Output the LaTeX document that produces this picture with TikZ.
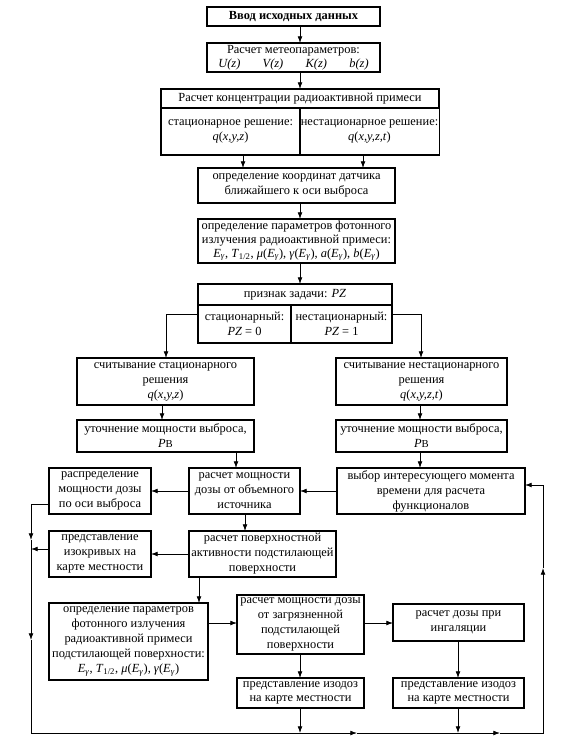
\documentclass[tikz,border=0pt]{standalone}
\usepackage{fontspec}
\setmainfont{Liberation Serif}
\usetikzlibrary{arrows.meta}
\newcommand\fs{\fontsize{9.3}{11.3}\selectfont}
\newcommand\Eg{\textit{E}\textsubscript{\textit{γ}}}
\newcommand\Thalf{\textit{T}\textsubscript{1/2}}
\newcommand\Pv{\textit{P}{\footnotesize В}}
\newcommand\bx[6]{\node[bx,minimum width={(#4-#2)*0.75pt},minimum height={(#5-#3)*0.75pt}] (#1) at ({(#2+#4)/2},{(#3+#5)/2}) {#6};}
\tikzset{
  bx/.style={draw, line width=0.9pt, inner sep=1pt, outer sep=0pt, align=center, font=\fs},
  arr/.style={line width=0.6pt, -{Latex[length=5pt,width=3.6pt]}},
  ln/.style={line width=0.6pt}
}
\begin{document}
\begin{tikzpicture}[x=0.75pt,y=-0.75pt]
\useasboundingbox (0,0) rectangle (562,745);
% boxes
\bx{b1}{207}{7}{380}{26}{\textbf{Ввод исходных данных}}
\bx{b2}{207}{43}{380}{72}{Расчет метеопараметров:\\[-1pt] \textit{U(z)}\hspace{1.8em}\textit{V(z)}\hspace{1.8em}\textit{K(z)}\hspace{1.8em}\textit{b(z)}}
\bx{b3t}{161}{89}{439}{108}{Расчет концентрации радиоактивной примеси}
\bx{b3l}{161}{108}{300}{155}{стационарное решение:\\ \textit{q}(\textit{x,y,z})}
\bx{b3r}{300}{108}{439}{155}{нестационарное решение:\\ \textit{q}(\textit{x,y,z,t})}
\bx{b4}{198}{168}{395}{203}{определение координат датчика\\ближайшего к оси выброса}
\bx{b5}{198}{219}{395}{263}{определение параметров фотонного\\[-1pt]излучения радиоактивной примеси:\\[-1pt] \Eg, \Thalf, \textit{μ}(\Eg), \textit{γ}(\Eg), \textit{a}(\Eg), \textit{b}(\Eg)}
\bx{b6t}{198}{284}{392}{305}{признак задачи: \textit{PZ}}
\bx{b6l}{198}{305}{291}{343}{стационарный:\\ \textit{PZ} = 0}
\bx{b6r}{291}{305}{392}{343}{нестационарный:\\ \textit{PZ} = 1}
\bx{b7}{77}{358}{254}{405}{считывание стационарного\\решения\\ \textit{q}(\textit{x,y,z})}
\bx{b8}{336}{358}{507}{405}{считывание нестационарного\\решения\\ \textit{q}(\textit{x,y,z,t})}
\bx{b9}{77}{420}{254}{452}{уточнение мощности выброса,\\ \Pv}
\bx{b10}{336}{420}{507}{452}{уточнение мощности выброса,\\ \Pv}
\bx{b11}{49}{468}{151}{514}{распределение\\мощности дозы\\по оси выброса}
\bx{b12}{189}{468}{300}{514}{расчет мощности\\дозы от объемного\\источника}
\bx{b13}{337}{468}{525}{514}{выбор интересующего момента\\времени для расчета\\функционалов}
\bx{b14}{189}{531}{336}{577}{расчет поверхностной\\активности подстилающей\\поверхности}
\bx{b15}{49}{531}{151}{577}{представление\\изокривых на\\карте местности}
\bx{b16}{49}{603}{208}{680}{определение параметров\\фотонного излучения\\радиоактивной примеси\\подстилающей поверхности:\\ \Eg, \Thalf, \textit{μ}(\Eg), \textit{γ}(\Eg)}
\bx{b17}{237}{595}{364}{654}{расчет мощности дозы\\от загрязненной\\подстилающей\\поверхности}
\bx{b18}{393}{604}{524}{641}{расчет дозы при\\ингаляции}
\bx{b19}{237}{678}{364}{708}{представление изодоз\\[-1pt]на карте местности}
\bx{b20}{393}{678}{524}{708}{представление изодоз\\[-1pt]на карте местности}
% helper coordinates
\coordinate (X300) at (300,0);
\coordinate (X243) at (243,0);
\coordinate (X363) at (363,0);
\coordinate (Y314) at (0,314);
\coordinate (X166) at (166,0);
\coordinate (X421) at (421,0);
\coordinate (X162) at (162,0);
\coordinate (X420) at (420,0);
\coordinate (X236) at (236,0);
\coordinate (X245) at (245,0);
\coordinate (X199) at (199,0);
\coordinate (Y623) at (0,623);
\coordinate (X458) at (458,0);
\coordinate (L504) at (31,504);
\coordinate (L549) at (31,549);
\coordinate (L540) at (31,540);
\coordinate (L640) at (31,640);
\coordinate (B300) at (300,733);
\coordinate (B357) at (357,733);
\coordinate (B458) at (458,733);
\coordinate (B500) at (500,733);
\coordinate (R568) at (543,568);
\coordinate (Y485) at (0,485);
% connectors
\draw[arr] (b1.south -| X300) -- (b2.north -| X300);
\draw[arr] (b2.south -| X300) -- (b3t.north -| X300);
\draw[arr] (b3l.south -| X243) -- (b4.north -| X243);
\draw[arr] (b3r.south -| X363) -- (b4.north -| X363);
\draw[arr] (b4.south -| X300) -- (b5.north -| X300);
\draw[arr] (b5.south -| X300) -- (b6t.north -| X300);
\draw[arr] (b6l.west |- Y314) -| (b7.north -| X166);
\draw[arr] (b6r.east |- Y314) -| (b8.north -| X421);
\draw[arr] (b7.south -| X162) -- (b9.north -| X162);
\draw[arr] (b8.south -| X420) -- (b10.north -| X420);
\draw[arr] (b9.south -| X236) -- (b12.north -| X236);
\draw[arr] (b10.south -| X420) -- (b13.north -| X420);
\draw[arr] (b13.west) -- (b12.east);
\draw[arr] (b12.west) -- (b11.east);
\draw[arr] (b12.south -| X245) -- (b14.north -| X245);
\draw[arr] (b14.west) -- (b15.east);
\draw[arr] (b14.south -| X199) -- (b16.north -| X199);
\draw[arr] (b16.east |- Y623) -- (b17.west |- Y623);
\draw[arr] (b17.east |- Y623) -- (b18.west |- Y623);
\draw[arr] (b17.south -| X300) -- (b19.north -| X300);
\draw[arr] (b18.south -| X458) -- (b20.north -| X458);
\draw[arr] (b19.south -| X300) -- (B300);
\draw[arr] (b20.south -| X458) -- (B458);
\draw[arr] (b15.west |- L549) -- (L549);
% feedback loop
\draw[arr] (b11.west |- L504) -| (L540);
\draw[arr] (L540) -- (L640);
\draw[arr] (L640) |- (B357);
\draw[arr] (B357) -- (B500);
\draw[arr] (B500) -| (R568);
\draw[arr] (R568) |- (b13.east |- Y485);
\end{tikzpicture}
\end{document}
